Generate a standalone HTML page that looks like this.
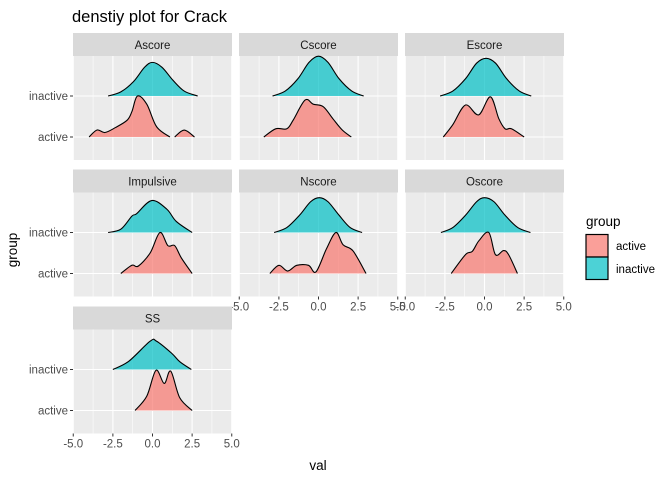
<!DOCTYPE html>
<html><head><meta charset="utf-8"><style>
body{margin:0;background:#fff;}
svg text{font-family:"Liberation Sans",sans-serif;}
</style></head><body>
<svg id="chart" width="672" height="480" viewBox="0 0 672 480" xmlns="http://www.w3.org/2000/svg">
<text x="72" y="22" font-size="16.5" fill="#000">denstiy plot for Crack</text>
<text x="318" y="470" font-size="13.5" fill="#000" text-anchor="middle">val</text>
<text transform="translate(17,250) rotate(-90)" font-size="13.5" fill="#000" text-anchor="middle">group</text>
<g>
<text x="586" y="226" font-size="13.5" fill="#000">group</text>
<rect x="586" y="234.5" width="22" height="22.5" fill="#F8766D" fill-opacity="0.7" stroke="#000" stroke-width="1.2"/>
<rect x="586" y="257" width="22" height="22.5" fill="#00BFC4" fill-opacity="0.7" stroke="#000" stroke-width="1.2"/>
<text x="616" y="250" font-size="11.5" fill="#000">active</text>
<text x="616" y="273" font-size="11.5" fill="#000">inactive</text>
</g>
<g id="panels"></g>
</svg>
<script>
const facets = ["Ascore","Cscore","Escore","Impulsive","Nscore","Oscore","SS"];
const groups = ["active","inactive"];
const xTicks = [-5,-2.5,0,2.5,5];
const xTickLabels = ["-5.0","-2.5","0.0","2.5","5.0"];
const activeAscore = [[[-4.0,0],[-3.5,0.17],[-3.0,0.11],[-2.34,0.23],[-1.6,0.41],[-1.3,0.62],[-0.95,1.0],[-0.36,0.8],[0.26,0.25],[1.1,0]],[[1.4,0],[2.0,0.17],[2.65,0]]];
const inactiveAscore = [[[-2.8,0],[-2.0,0.1],[-1.2,0.35],[-0.5,0.7],[0,0.82],[0.6,0.7],[1.3,0.38],[2.0,0.12],[2.85,0]]];
const activeCscore = [[[-3.45,0],[-2.7,0.2],[-2.0,0.2],[-1.6,0.41],[-0.85,0.9],[-0.33,0.8],[0.3,0.74],[0.9,0.45],[1.5,0.17],[2.07,0]]];
const inactiveCscore = [[[-2.9,0],[-2.1,0.12],[-1.3,0.42],[-0.6,0.82],[0,0.97],[0.6,0.82],[1.3,0.42],[2.1,0.12],[2.85,0]]];
const activeEscore = [[[-2.6,0],[-2.0,0.3],[-1.2,0.78],[-0.37,0.54],[0.37,0.98],[0.9,0.45],[1.3,0.2],[1.7,0.2],[2.5,0]]];
const inactiveEscore = [[[-2.8,0],[-2.0,0.12],[-1.2,0.42],[-0.5,0.8],[0.1,0.92],[0.7,0.8],[1.4,0.42],[2.2,0.12],[2.95,0]]];
const activeImpulsive = [[[-2.0,0],[-1.3,0.2],[-0.9,0.18],[-0.15,0.5],[0.47,1.0],[0.97,0.68],[1.4,0.68],[1.82,0.38],[2.5,0]]];
const inactiveImpulsive = [[[-2.8,0],[-2.0,0.08],[-1.3,0.4],[-1.0,0.46],[-0.05,0.78],[0.9,0.57],[1.5,0.27],[2.5,0]]];
const activeNscore = [[[-3.07,0],[-2.5,0.2],[-1.95,0.06],[-1.37,0.2],[-0.63,0.2],[-0.16,0.04],[0.5,0.6],[1.1,1.0],[1.55,0.7],[2.18,0.55],[3.0,0]]];
const inactiveNscore = [[[-2.8,0],[-2.0,0.12],[-1.2,0.42],[-0.5,0.75],[0.05,0.85],[0.6,0.75],[1.3,0.42],[2.0,0.12],[2.75,0]]];
const activeOscore = [[[-2.1,0],[-1.2,0.46],[-0.77,0.54],[-0.35,0.8],[0.27,1.0],[0.69,0.46],[1.2,0.56],[1.52,0.46],[2.08,0]]];
const inactiveOscore = [[[-2.75,0],[-2.0,0.12],[-1.2,0.42],[-0.5,0.75],[0,0.85],[0.6,0.75],[1.3,0.42],[2.1,0.12],[2.9,0]]];
const activeSS = [[[-1.1,0],[-0.36,0.35],[0.22,0.98],[0.74,0.66],[1.15,0.96],[1.72,0.31],[2.5,0]]];
const inactiveSS = [[[-2.5,0],[-1.5,0.2],[-0.15,0.69],[0.26,0.69],[1.2,0.4],[1.72,0.19],[2.45,0]]];

const seriesActive = [activeAscore,activeCscore,activeEscore,activeImpulsive,activeNscore,activeOscore,activeSS];
const seriesInactive = [inactiveAscore,inactiveCscore,inactiveEscore,inactiveImpulsive,inactiveNscore,inactiveOscore,inactiveSS];

const NS="http://www.w3.org/2000/svg";
const root=document.getElementById('panels');
const colX=[73,239,405], rowY=[33,169.5,306.5], PW=159, SH=23, PH=104;
function mk(t,a,p){const e=document.createElementNS(NS,t);for(const k in a)e.setAttribute(k,a[k]);(p||root).appendChild(e);return e;}
function smoothPath(pts){
  let d="M"+pts[0][0]+","+pts[0][1];
  for(let i=0;i<pts.length-1;i++){
    const p0=pts[Math.max(0,i-1)],p1=pts[i],p2=pts[i+1],p3=pts[Math.min(pts.length-1,i+2)];
    const c1=[p1[0]+(p2[0]-p0[0])/6,p1[1]+(p2[1]-p0[1])/6];
    const c2=[p2[0]-(p3[0]-p1[0])/6,p2[1]-(p3[1]-p1[1])/6];
    d+=" C"+c1[0].toFixed(2)+","+c1[1].toFixed(2)+" "+c2[0].toFixed(2)+","+c2[1].toFixed(2)+" "+p2[0].toFixed(2)+","+p2[1].toFixed(2);
  }
  return d;
}
facets.forEach((f,i)=>{
  const r=Math.floor(i/3),c=i%3,x0=colX[c],sy=rowY[r],py=sy+SH;
  const xs=v=>x0+PW/2+v*15.85;
  const base={active:py+81,inactive:py+40};
  const ys=(g,h)=>base[g]-h*41;
  const g=mk('g',{});
  
  
  const strip=mk('rect',{x:x0,y:sy,width:PW,height:SH,fill:'#D9D9D9'},g);
  
  
  const st=mk('text',{x:x0+PW/2,y:sy+16,'font-size':'11.5','text-anchor':'middle',fill:'#1A1A1A'},g);
  st.textContent=f;
  
  
  const bg=mk('rect',{x:x0,y:py,width:PW,height:PH,fill:'#EBEBEB'},g);
  
  
  [-3.75,-1.25,1.25,3.75].forEach(v=>mk('line',{x1:xs(v),x2:xs(v),y1:py,y2:py+PH,stroke:'#fff','stroke-width':0.55},g));
  xTicks.forEach(v=>mk('line',{x1:xs(v),x2:xs(v),y1:py,y2:py+PH,stroke:'#fff','stroke-width':1.1},g));
  groups.forEach(gr=>mk('line',{x1:x0,x2:x0+PW,y1:base[gr],y2:base[gr],stroke:'#fff','stroke-width':1.1},g));
  [["inactive",seriesInactive[i],'#00BFC4'],["active",seriesActive[i],'#F8766D']].forEach(([gr,segs,col])=>{
    segs.forEach(seg=>{
      const pts=seg.map(p=>[xs(p[0]),ys(gr,p[1])]);
      const d=smoothPath(pts);
      const area=mk('path',{d:d+" Z",fill:col,'fill-opacity':0.7},g);
      
      
      mk('path',{d:d,fill:'none',stroke:'#000','stroke-width':1.1},g);
    });
  });
  if(c===0){
    groups.forEach(gr=>{
      mk('line',{x1:x0-3,x2:x0,y1:base[gr],y2:base[gr],stroke:'#333','stroke-width':1},g);
      const t=mk('text',{x:x0-5,y:base[gr]+4,'font-size':'11.5','text-anchor':'end',fill:'#4D4D4D'},g);
      t.textContent=gr;
      
      
    });
  }
  const showX=(r===2)||(r===1&&c>0);
  if(showX){
    xTicks.forEach((v,k)=>{
      mk('line',{x1:xs(v),x2:xs(v),y1:py+PH,y2:py+PH+3,stroke:'#333','stroke-width':1},g);
      const t=mk('text',{x:xs(v),y:py+PH+14,'font-size':'11.5','text-anchor':'middle',fill:'#4D4D4D'},g);
      t.textContent=xTickLabels[k];
      
      
    });
  }
});
</script>
</body></html>
